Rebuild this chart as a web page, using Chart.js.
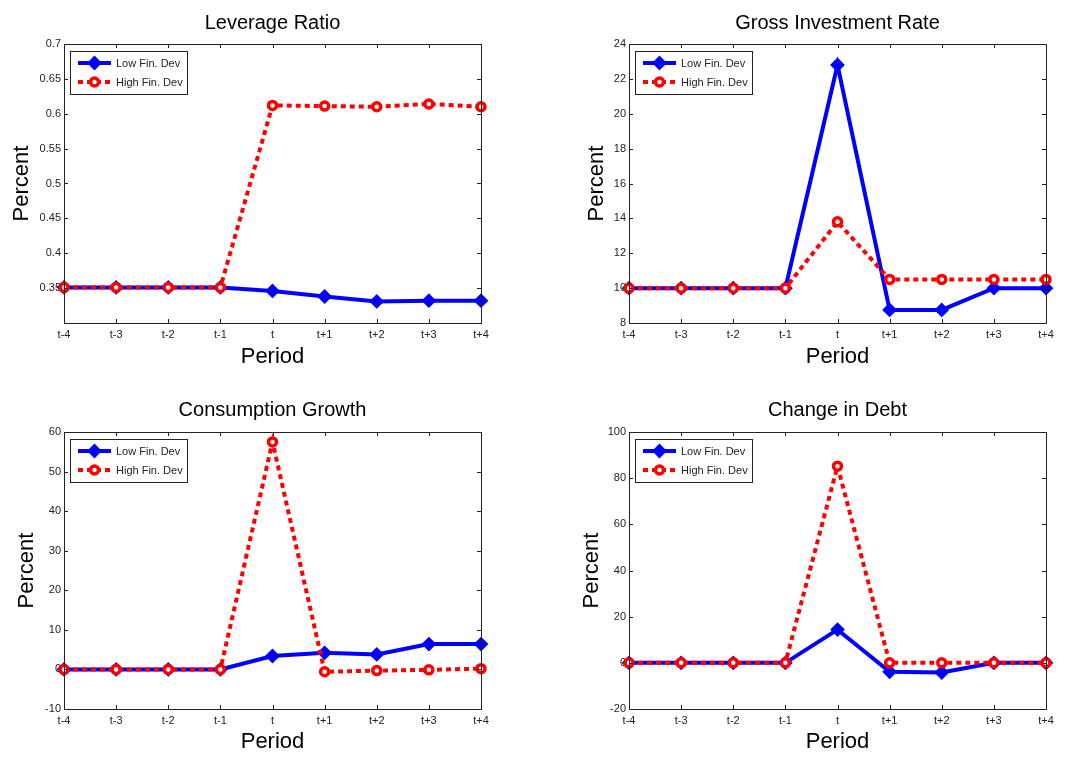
<!DOCTYPE html>
<html>
<head>
<meta charset="utf-8">
<script src="https://cdn.jsdelivr.net/npm/chart.js@4.4.0/dist/chart.umd.min.js"></script>
<style>
  body { margin: 0; background: #fff; width: 1082px; height: 757px; position: relative; overflow: hidden; }
  canvas { position: absolute; }
</style>
</head>
<body>
<canvas id="leverage" width="540" height="380" style="left:0;top:0"></canvas>
<canvas id="invest" width="542" height="380" style="left:540px;top:0"></canvas>
<canvas id="consumption" width="540" height="377" style="left:0;top:380px"></canvas>
<canvas id="debt" width="542" height="377" style="left:540px;top:380px"></canvas>
<script>
const periods = ['t-4', 't-3', 't-2', 't-1', 't', 't+1', 't+2', 't+3', 't+4'];
const seriesNames = ['Low Fin. Dev', 'High Fin. Dev'];

const leverageLow  = [0.351, 0.351, 0.351, 0.351, 0.346, 0.338, 0.331, 0.332, 0.332];
const leverageHigh = [0.351, 0.351, 0.351, 0.351, 0.612, 0.611, 0.610, 0.614, 0.610];
const leverageTicks = [0.3, 0.35, 0.4, 0.45, 0.5, 0.55, 0.6, 0.65, 0.7];

const investLow  = [10, 10, 10, 10, 22.8, 8.75, 8.75, 10, 10];
const investHigh = [10, 10, 10, 10, 13.8, 10.5, 10.5, 10.5, 10.5];
const investTicks = [8, 10, 12, 14, 16, 18, 20, 22, 24];

const consumptionLow  = [0, 0, 0, 0, 3.4, 4.2, 3.8, 6.4, 6.4];
const consumptionHigh = [0, 0, 0, 0, 57.5, -0.6, -0.3, -0.1, 0.2];
const consumptionTicks = [-10, 0, 10, 20, 30, 40, 50, 60];

const debtLow  = [0, 0, 0, 0, 14.4, -3.9, -4.2, 0, 0];
const debtHigh = [0, 0, 0, 0, 85.2, 0, 0, 0, 0];
const debtTicks = [-20, 0, 20, 40, 60, 80, 100];

Chart.defaults.font.family = 'Arial, "Liberation Sans", Helvetica, sans-serif';
Chart.defaults.color = '#222';

const BLUE = '#0000ff';
const RED = '#ff0000';

// box around the axes with inward ticks on all four sides (matlab style)
const framePlugin = {
  id: 'frame',
  afterDatasetsDraw(chart) {
    const { ctx, chartArea: a, scales } = chart;
    const len = 4;
    ctx.save();
    ctx.strokeStyle = '#222';
    ctx.lineWidth = 1;
    ctx.beginPath();
    scales.x.ticks.forEach((t, i) => {
      const x = Math.round(scales.x.getPixelForTick(i)) + 0.5;
      ctx.moveTo(x, a.bottom); ctx.lineTo(x, a.bottom - len);
      ctx.moveTo(x, a.top); ctx.lineTo(x, a.top + len);
    });
    scales.y.ticks.forEach(t => {
      const y = Math.round(scales.y.getPixelForValue(t.value)) + 0.5;
      ctx.moveTo(a.left, y); ctx.lineTo(a.left + len, y);
      ctx.moveTo(a.right, y); ctx.lineTo(a.right - len, y);
    });
    ctx.stroke();
    ctx.strokeRect(Math.round(a.left) + 0.5, Math.round(a.top) + 0.5,
      Math.round(a.right - a.left), Math.round(a.bottom - a.top));
    ctx.restore();
  }
};

function drawMarker(ctx, ds, x, y) {
  ctx.save();
  ctx.setLineDash([]);
  ctx.lineWidth = ds.pointBorderWidth;
  ctx.strokeStyle = ds.pointBorderColor;
  ctx.fillStyle = ds.pointBackgroundColor;
  const r = ds.pointRadius;
  ctx.beginPath();
  if (ds.pointStyle === 'rectRot') {
    ctx.moveTo(x, y - r); ctx.lineTo(x + r, y); ctx.lineTo(x, y + r); ctx.lineTo(x - r, y);
    ctx.closePath();
  } else {
    ctx.arc(x, y, r, 0, Math.PI * 2);
  }
  ctx.fill();
  ctx.stroke();
  ctx.restore();
}

// legend box in the upper left corner of the axes
const boxLegend = {
  id: 'boxLegend',
  afterDraw(chart) {
    const { ctx, chartArea: a } = chart;
    const x0 = a.left + 6, y0 = a.top + 7, w = 117, h = 43;
    ctx.save();
    ctx.fillStyle = '#fff';
    ctx.fillRect(x0, y0, w, h);
    ctx.strokeStyle = '#222';
    ctx.lineWidth = 1;
    ctx.strokeRect(x0 + 0.5, y0 + 0.5, w, h);
    chart.data.datasets.forEach((ds, i) => {
      const y = y0 + 12 + i * 19;
      ctx.save();
      ctx.strokeStyle = ds.borderColor;
      ctx.lineWidth = ds.borderWidth;
      ctx.setLineDash(ds.borderDash || []);
      ctx.beginPath();
      ctx.moveTo(x0 + 8, y);
      ctx.lineTo(x0 + 41, y);
      ctx.stroke();
      ctx.restore();
      drawMarker(ctx, ds, x0 + 24.5, y);
      ctx.fillStyle = '#222';
      ctx.font = '11px Arial, "Liberation Sans", sans-serif';
      ctx.textBaseline = 'middle';
      ctx.fillText(ds.label, x0 + 46, y + 1);
    });
    ctx.restore();
  }
};

function makePanel(id, title, low, high, yTicks, lay) {
  new Chart(document.getElementById(id), {
    type: 'line',
    data: {
      labels: periods,
      datasets: [
        {
          label: seriesNames[0], data: low, order: 1,
          borderColor: BLUE, borderWidth: 4, clip: false,
          pointStyle: 'rectRot', pointRadius: 6, pointBorderWidth: 2,
          pointBackgroundColor: BLUE, pointBorderColor: BLUE
        },
        {
          label: seriesNames[1], data: high, order: 0,
          borderColor: RED, borderWidth: 4, borderDash: [5, 4], clip: false,
          pointStyle: 'circle', pointRadius: 4, pointBorderWidth: 3.5,
          pointBackgroundColor: '#fff', pointBorderColor: RED
        }
      ]
    },
    options: {
      responsive: false,
      devicePixelRatio: 1,
      animation: false,
      layout: { padding: { left: 0, right: lay.right, top: 0, bottom: 0 } },
      plugins: {
        legend: { display: false },
        tooltip: { enabled: false },
        title: {
          display: true, text: title, fullSize: false, color: '#000',
          font: { size: 20, weight: 'normal' },
          padding: { top: lay.titleTop, bottom: lay.titleBottom }
        }
      },
      scales: {
        x: {
          offset: false,
          grid: { display: false, drawTicks: false },
          border: { display: false },
          ticks: { font: { size: 11 }, padding: 5, maxRotation: 0, autoSkip: false },
          title: { display: true, text: 'Period', color: '#000', font: { size: 22 },
            padding: { top: 0, bottom: lay.periodBottom } },
          afterFit: s => { s.height = lay.xHeight; }
        },
        y: {
          min: yTicks[0], max: yTicks[yTicks.length - 1],
          grid: { display: false, drawTicks: false },
          border: { display: false },
          afterBuildTicks: s => { s.ticks = yTicks.map(v => ({ value: v })); },
          ticks: {
            font: { size: 11 }, padding: 3,
            callback: v => (lay.hideFirst && v === yTicks[0]) ? '' : String(v)
          },
          title: { display: true, text: 'Percent', color: '#000', font: { size: 22 },
            padding: { top: lay.percentLeft, bottom: 0 } },
          afterFit: s => { s.width = lay.yWidth; }
        }
      }
    },
    plugins: [framePlugin, boxLegend]
  });
}

makePanel('leverage', 'Leverage Ratio', leverageLow, leverageHigh, leverageTicks,
  { right: 59, titleTop: 11, titleBottom: 9, xHeight: 57, periodBottom: 10, yWidth: 64, percentLeft: 9, hideFirst: true });
makePanel('invest', 'Gross Investment Rate', investLow, investHigh, investTicks,
  { right: 36, titleTop: 11, titleBottom: 9, xHeight: 57, periodBottom: 10, yWidth: 89, percentLeft: 44 });
makePanel('consumption', 'Consumption Growth', consumptionLow, consumptionHigh, consumptionTicks,
  { right: 59, titleTop: 18, titleBottom: 10, xHeight: 48, periodBottom: 2, yWidth: 64, percentLeft: 14 });
makePanel('debt', 'Change in Debt', debtLow, debtHigh, debtTicks,
  { right: 36, titleTop: 18, titleBottom: 10, xHeight: 48, periodBottom: 2, yWidth: 89, percentLeft: 39 });
</script>
</body>
</html>
